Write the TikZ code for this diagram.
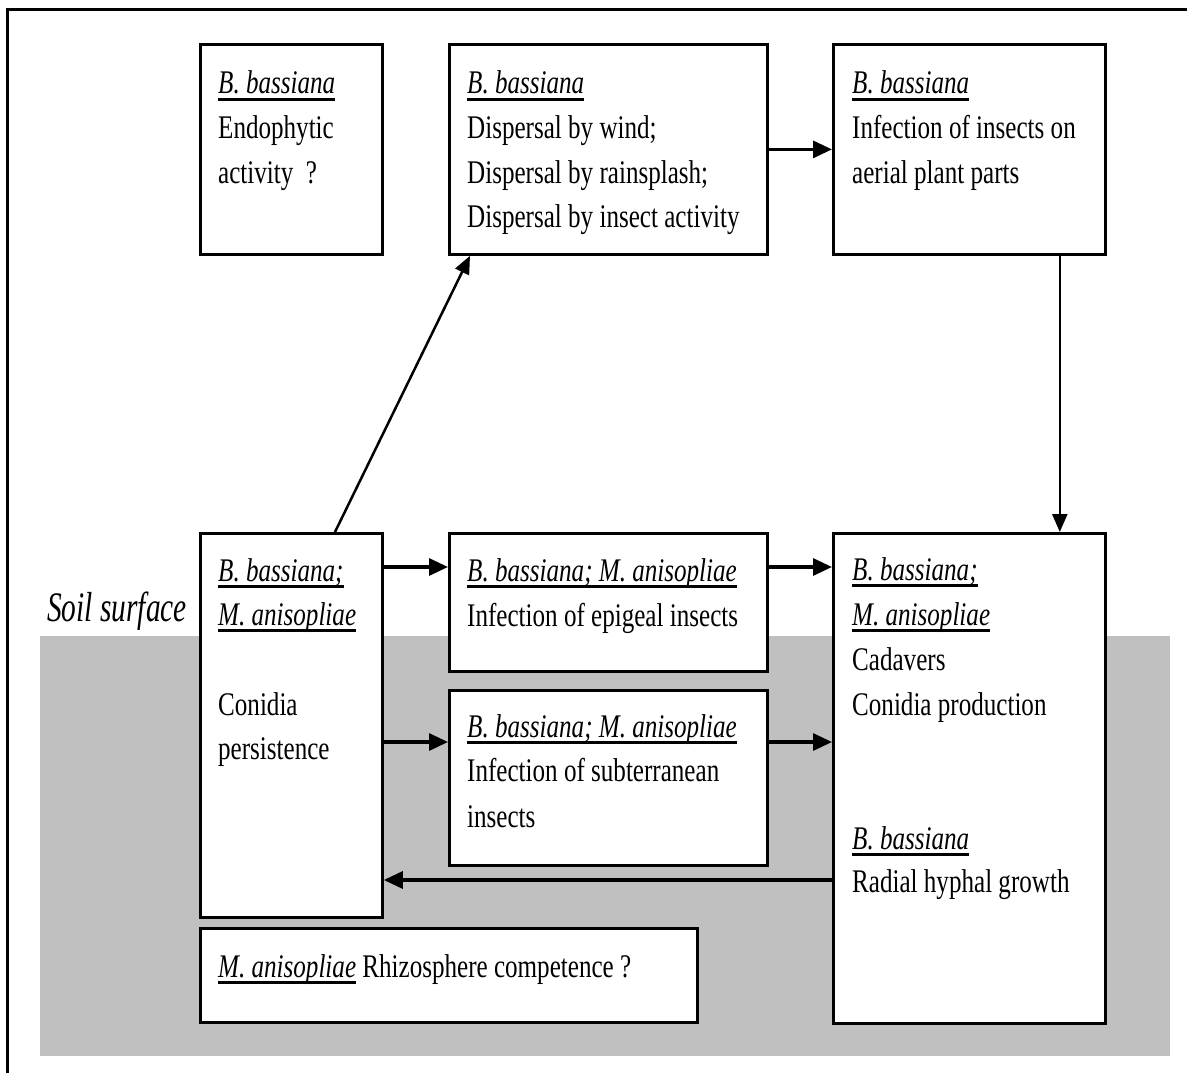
\documentclass[tikz,border=0pt]{standalone}
\usepackage{fontspec}
\setmainfont{Liberation Serif}[FakeStretch=0.76]
\newfontfamily\soilfont{Liberation Serif}[FakeStretch=0.70]
\usetikzlibrary{arrows.meta,calc}
\definecolor{soilgray}{RGB}{192,192,192}
\newcommand\ulsp[1]{\setbox0=\hbox{\itshape #1}\rlap{\rule[-7pt]{\wd0}{2.8pt}}\box0\relax}
\begin{document}
\begin{tikzpicture}[x=1pt,y=-1pt,
  box/.style={draw=black, fill=white, line width=2.8pt, inner sep=0pt, anchor=north west},
  txt/.style={anchor=base west, inner sep=0pt, font=\fontsize{33}{44}\selectfont},
  arr/.style={line width=3.2pt, -{Triangle[length=19pt,width=17pt]}},
  arrthin/.style={line width=2.5pt, -{Triangle[length=18pt,width=15pt]}}]
\useasboundingbox (0,0) rectangle (1187,1073);
% soil region
\fill[soilgray] (40,636) rectangle (1170,1056);
% frame (cropped)
\draw[line width=3pt] (7,1073) -- (7,10) -- (1187,10);
% boxes
\node[box, minimum width=182pt, minimum height=210pt] (A) at (199,43) {};
\node[box, minimum width=318pt, minimum height=210pt] (B) at (448,43) {};
\node[box, minimum width=272pt, minimum height=210pt] (C) at (832,43) {};
\node[box, minimum width=182pt, minimum height=384pt] (D) at (199,532) {};
\node[box, minimum width=318pt, minimum height=138pt] (E) at (448,532) {};
\node[box, minimum width=318pt, minimum height=175pt] (F) at (448,689) {};
\node[box, minimum width=272pt, minimum height=490pt] (G) at (832,532) {};
\node[box, minimum width=497pt, minimum height=94pt] (H) at (199,927) {};
% texts
\node[txt] (a1) at (218,94) {\ulsp{B. bassiana}};
\node[txt] (a2) at (218,139) {Endophytic};
\node[txt] (a3) at (218,183) {activity\ \ ?};
\node[txt] (b1) at (467,94) {\ulsp{B. bassiana}};
\node[txt] (b2) at (467,139) {Dispersal by wind;};
\node[txt] (b3) at (467,183) {Dispersal by rainsplash;};
\node[txt] (b4) at (467,227) {Dispersal by insect activity};
\node[txt] (c1t) at (852,94) {\ulsp{B. bassiana}};
\node[txt] (c2t) at (852,139) {Infection of insects on};
\node[txt] (c3t) at (852,183) {aerial plant parts};
\node[txt] (d1) at (218,581) {\ulsp{B. bassiana;}};
\node[txt] (d2) at (218,625) {\ulsp{M. anisopliae}};
\node[txt] (d3) at (218,715) {Conidia};
\node[txt] (d4) at (218,759) {persistence};
\node[txt] (e1) at (467,581) {\ulsp{B. bassiana; M. anisopliae}};
\node[txt] (e2) at (467,626) {Infection of epigeal insects};
\node[txt] (f1t) at (467,737) {\ulsp{B. bassiana; M. anisopliae}};
\node[txt] (f2t) at (467,781) {Infection of subterranean};
\node[txt] (f3t) at (467,827) {insects};
\node[txt] (g1t) at (852,580) {\ulsp{B. bassiana;}};
\node[txt] (g2t) at (852,625) {\ulsp{M. anisopliae}};
\node[txt] (g3t) at (852,670) {Cadavers};
\node[txt] (g4t) at (852,715) {Conidia production};
\node[txt] (g5t) at (852,849) {\ulsp{B. bassiana}};
\node[txt] (g6t) at (852,892) {Radial hyphal growth};
\node[txt] (h1) at (218,977) {\ulsp{M. anisopliae} Rhizosphere competence ?};
\node[anchor=base west, inner sep=0pt, font=\soilfont\fontsize{42}{48}\selectfont\itshape] (soil) at (47,621) {Soil surface};
% connectors
\coordinate (dy) at ([yshift=-35pt]D.north east);
\coordinate (fy) at ([yshift=-53pt]F.north west);
\coordinate (gy) at ([yshift=-348pt]G.north west);
\coordinate (cx) at ([xshift=-47pt]C.south east);
\draw[arr] (B.east) -- (C.west);
\draw[arrthin] (cx) -- (cx |- G.north);
\draw[arrthin] ([xshift=136pt]D.north west) -- ([xshift=22pt]B.south west);
\draw[arr] (dy) -- (dy -| E.west);
\draw[arr] (dy -| E.east) -- (dy -| G.west);
\draw[arr] (fy -| D.east) -- (fy);
\draw[arr] (fy -| F.east) -- (fy -| G.west);
\draw[arr] (gy) -- (gy -| D.east);
\end{tikzpicture}
\end{document}
